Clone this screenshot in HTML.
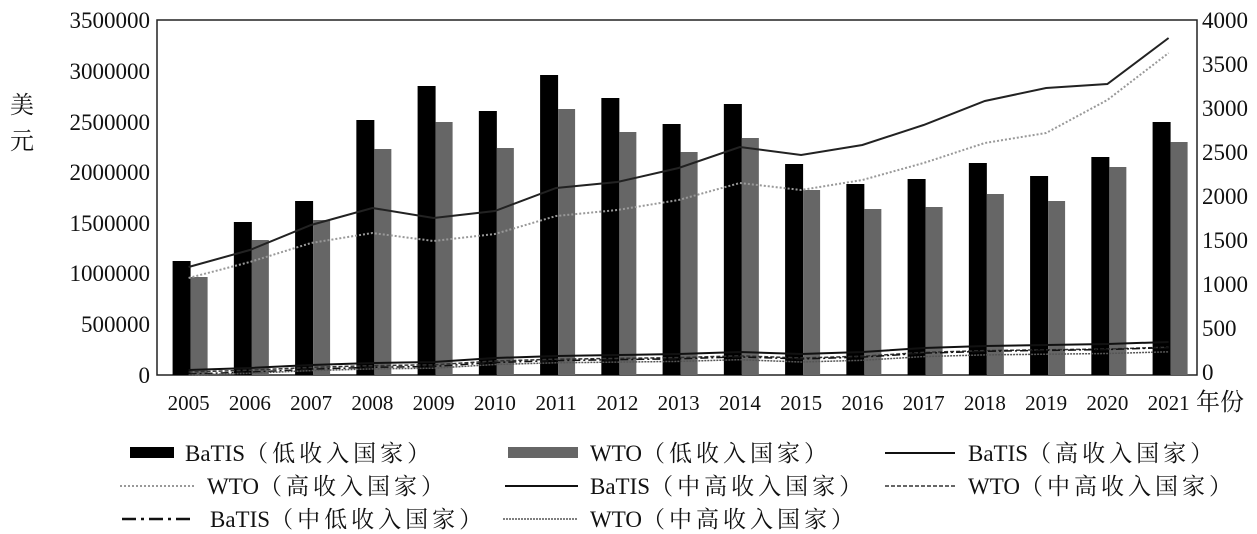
<!DOCTYPE html><html><head><meta charset="utf-8"><style>body{margin:0;background:#fff}svg{display:block}text{font-family:"Liberation Serif","Noto Serif CJK SC",serif;fill:#111}</style></head><body>
<svg width="1257" height="534" xmlns="http://www.w3.org/2000/svg">
<rect x="157" y="20" width="1040" height="355" fill="none" stroke="#222" stroke-width="1.5"/>
<g font-size="23" text-anchor="end">
<text x="150" y="28">3500000</text><text x="150" y="79">3000000</text><text x="150" y="130">2500000</text><text x="150" y="180">2000000</text><text x="150" y="231">1500000</text><text x="150" y="281">1000000</text><text x="150" y="332">500000</text><text x="150" y="383">0</text></g>
<g font-size="23" text-anchor="start">
<text x="1202" y="28">4000</text><text x="1202" y="72">3500</text><text x="1202" y="116">3000</text><text x="1202" y="160">2500</text><text x="1202" y="204">2000</text><text x="1202" y="248">1500</text><text x="1202" y="292">1000</text><text x="1202" y="336">500</text><text x="1202" y="380">0</text></g>
<text x="10" y="113" font-size="24">美</text><text x="10" y="149" font-size="24">元</text>
<text x="1196" y="410" font-size="24">年份</text>
<g id="bars"></g>
<g font-size="21" text-anchor="middle" id="yrs"></g>
<g fill="none">
<polyline id="bh" stroke="#222" stroke-width="2"/>
<polyline id="wh" stroke="#999" stroke-width="2" stroke-dasharray="2 2"/>
<polyline id="bm" stroke="#111" stroke-width="2"/>
<polyline id="wm" stroke="#333" stroke-width="1.5" stroke-dasharray="4 2"/>
<polyline id="bl" stroke="#111" stroke-width="1.5" stroke-dasharray="8 3 2 3"/>
<polyline id="wl" stroke="#555" stroke-width="1.5" stroke-dasharray="2 1"/>
</g>
<g font-size="23">
<rect x="130" y="447" width="44" height="11" fill="#000"/><text x="185" y="461">BaTIS<tspan letter-spacing="4">（低收入国家）</tspan></text>
<rect x="508" y="447" width="70" height="11" fill="#666"/><text x="590" y="461">WTO<tspan letter-spacing="4">（低收入国家）</tspan></text>
<line x1="885" y1="453" x2="955" y2="453" stroke="#111" stroke-width="2"/><text x="968" y="461">BaTIS<tspan letter-spacing="4">（高收入国家）</tspan></text>
<line x1="120" y1="486" x2="195" y2="486" stroke="#999" stroke-width="2" stroke-dasharray="2 2"/><text x="207" y="494">WTO<tspan letter-spacing="4">（高收入国家）</tspan></text>
<line x1="505" y1="486" x2="578" y2="486" stroke="#111" stroke-width="2"/><text x="590" y="494">BaTIS<tspan letter-spacing="4">（中高收入国家）</tspan></text>
<line x1="885" y1="486" x2="955" y2="486" stroke="#333" stroke-width="1.5" stroke-dasharray="4 2"/><text x="968" y="494">WTO<tspan letter-spacing="4">（中高收入国家）</tspan></text>
<line x1="122" y1="519" x2="195" y2="519" stroke="#111" stroke-width="2.5" stroke-dasharray="14 5 3 5"/><text x="210" y="527">BaTIS<tspan letter-spacing="4">（中低收入国家）</tspan></text>
<line x1="503" y1="519" x2="578" y2="519" stroke="#555" stroke-width="1.5" stroke-dasharray="2 1"/><text x="590" y="527">WTO<tspan letter-spacing="4">（中高收入国家）</tspan></text>
</g>
</svg>
<script>
const ns="http://www.w3.org/2000/svg";
const bk=[261,222,201,120,86,111,75,98,124,104,164,184,179,163,176,157,122];
const gr=[277,240,220,149,122,148,109,132,152,138,190,209,207,194,201,167,142];
const bh=[267,250,225,208,218,211,188,182,168,147,155,145,125,101,88,84,38];
const wh=[278,262,243,233,241,234,216,210,200,183,190,180,163,143,133,100,53];
const bm=[370,368,365,363,362,358,356,355,354,352,354,352,348,346,345,344,342];
const wm=bm.map((v,i)=>v+2+i*0.2);
const bl=bm.map((v,i)=>v+4+i*0.1);
const wl=bm.map((v,i)=>v+5+i*0.3);
const bars=document.getElementById('bars'),yrs=document.getElementById('yrs');
const cx=i=>188.6+i*61.25;
for(let i=0;i<17;i++){
 let r=document.createElementNS(ns,'rect');r.setAttribute('x',cx(i)-16);r.setAttribute('y',bk[i]);r.setAttribute('width',18);r.setAttribute('height',375-bk[i]);r.setAttribute('fill','#000');bars.appendChild(r);
 r=document.createElementNS(ns,'rect');r.setAttribute('x',cx(i)+2);r.setAttribute('y',gr[i]);r.setAttribute('width',17);r.setAttribute('height',375-gr[i]);r.setAttribute('fill','#666');bars.appendChild(r);
 let t=document.createElementNS(ns,'text');t.setAttribute('x',cx(i));t.setAttribute('y',410);t.textContent=2005+i;yrs.appendChild(t);
}
const pts=a=>a.map((y,i)=>cx(i)+','+y).join(' ');
[['bh',bh],['wh',wh],['bm',bm],['wm',wm],['bl',bl],['wl',wl]].forEach(([id,a])=>document.getElementById(id).setAttribute('points',pts(a)));
</script>
</body></html>
